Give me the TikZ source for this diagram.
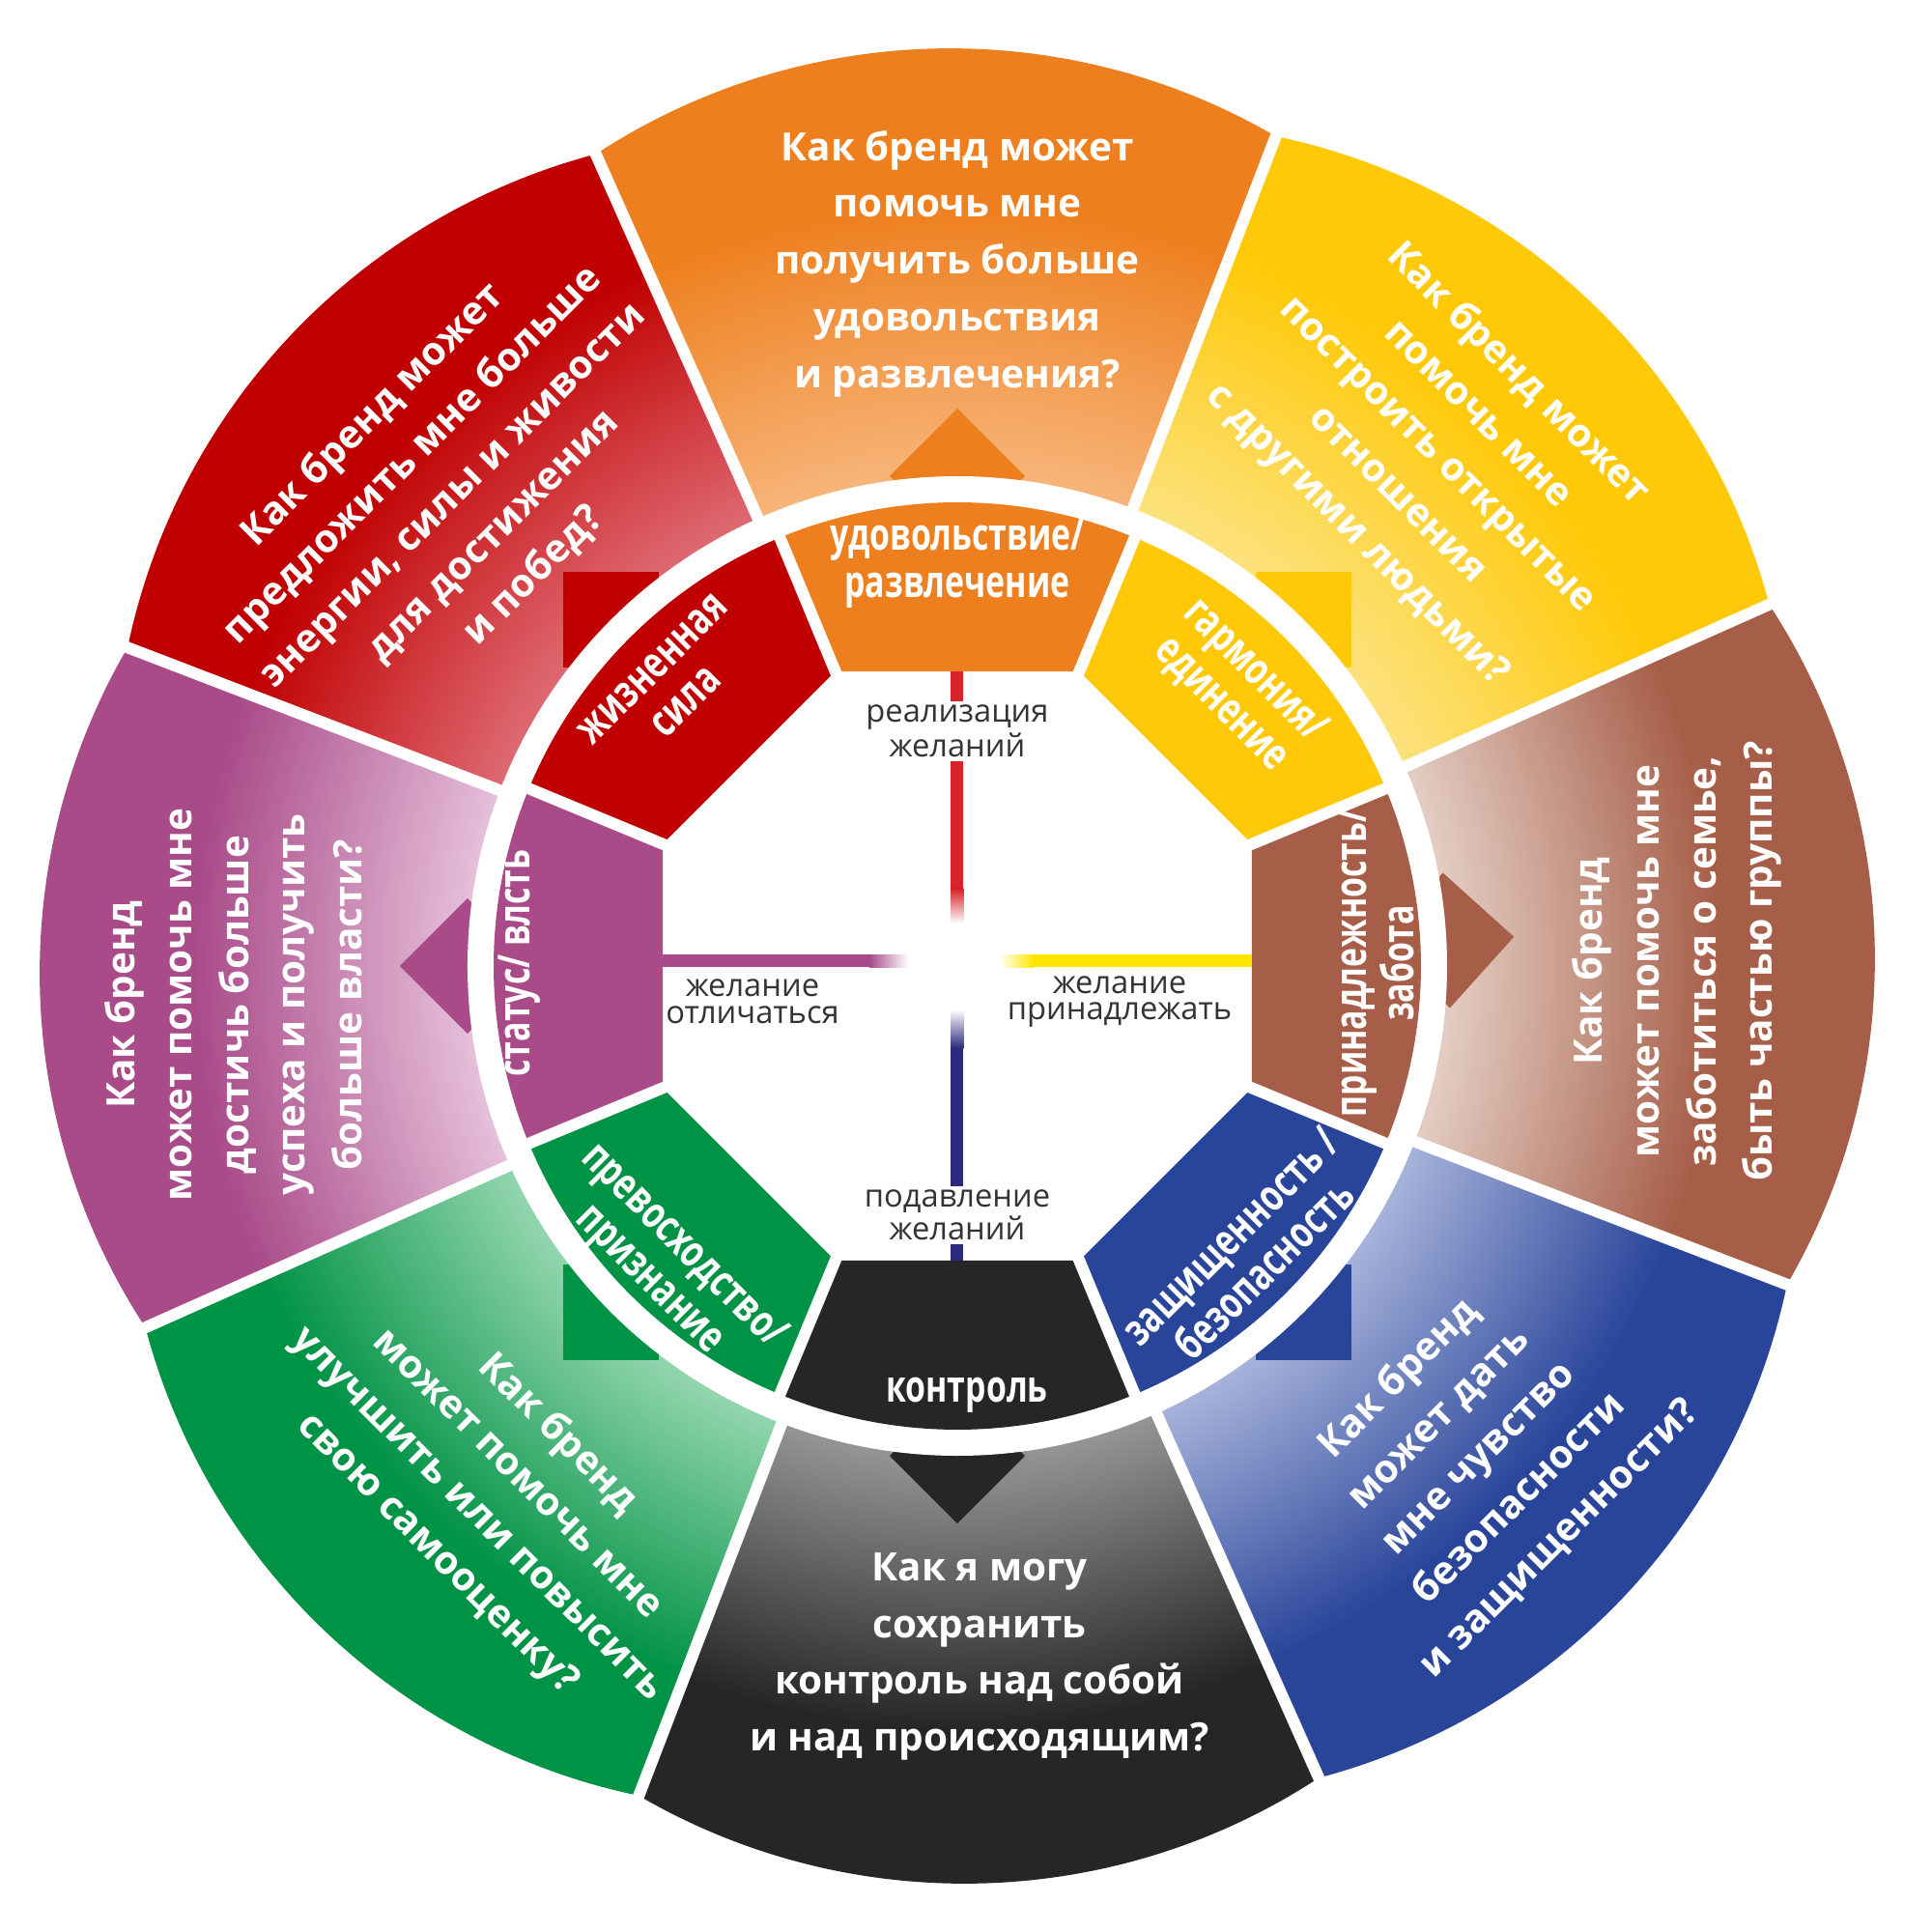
\documentclass[tikz,border=0pt]{standalone}
\usepackage{fontspec}
\setmainfont{Open Sans}
\newfontfamily\condfont[FakeStretch=0.74]{Open Sans}
\usepackage{tikz}

\definecolor{cRed}{HTML}{C00000}
\definecolor{cRedL}{HTML}{DE6A72}
\definecolor{cOrange}{HTML}{EE7F1E}
\definecolor{cOrangeL}{HTML}{F7B57A}
\definecolor{cYellow}{HTML}{FFC907}
\definecolor{cYellowL}{HTML}{FCE27E}
\definecolor{cBrown}{HTML}{A65E48}
\definecolor{cBrownL}{HTML}{E4CEC4}
\definecolor{cBlue}{HTML}{29459A}
\definecolor{cBlueL}{HTML}{A7B3DA}
\definecolor{cBlack}{HTML}{262626}
\definecolor{cBlackL}{HTML}{959595}
\definecolor{cGreen}{HTML}{009245}
\definecolor{cGreenL}{HTML}{94D6AE}
\definecolor{cPurple}{HTML}{A94B89}
\definecolor{cPurpleL}{HTML}{E6C0DA}
\definecolor{lRed}{HTML}{D8232A}
\definecolor{lPurple}{HTML}{A84B8A}
\definecolor{lYellow}{HTML}{FFE600}
\definecolor{lBlue}{HTML}{2D2A7C}
\definecolor{cText}{HTML}{333333}

% light near the ring, full colour towards the rim
\newcommand\wheelshade[3]{\pgfdeclareradialshading{#1}{\pgfpoint{0cm}{0cm}}%
  {color(0cm)=(#2);color(5.05cm)=(#2);color(7.9cm)=(#3);color(9.8cm)=(#3)}}
\wheelshade{shRed}{cRedL}{cRed}
\wheelshade{shOrange}{cOrangeL}{cOrange}
\wheelshade{shYellow}{cYellowL}{cYellow}
\wheelshade{shBrown}{cBrownL}{cBrown}
\wheelshade{shBlue}{cBlueL}{cBlue}
\wheelshade{shBlack}{cBlackL}{cBlack}
\wheelshade{shGreen}{cGreenL}{cGreen}
\wheelshade{shPurple}{cPurpleL}{cPurple}

% outer petal: #1 = middle angle, #2 = shading
\newcommand\petal[2]{%
  \begin{scope}
    \clip (0,0) -- (#1-22.5:9.2) arc[start angle=#1-31.72, end angle=#1+31.72, radius=6.696] -- cycle;
    \pgfuseshading{#2}
  \end{scope}}
% arrow square behind the ring
\newcommand\pointer[2]{%
  \fill[#2, shift={(#1:5.07)}] (#1:0.7) -- (#1+90:0.7) -- (#1+180:0.7) -- (#1+270:0.7) -- cycle;}
% inner ring segment
\newcommand\segment[2]{%
  \fill[#2] (#1-22.5:3.301) -- (#1+22.5:3.301) -- (#1+22.5:4.8)
    arc[start angle=#1+22.5, end angle=#1-22.5, radius=4.8] -- cycle;}

\begin{document}
\begin{tikzpicture}
  [outer/.style={text=white, align=center, font=\fontsize{11.5}{16.7}\selectfont\bfseries},
   inner/.style={text=white, align=center, font=\condfont\fontsize{13}{13.9}\selectfont\bfseries},
   mid/.style={text=cText, align=center, inner sep=1pt, font=\fontsize{9.3}{7.9}\selectfont},
   gap/.style={white, line width=1.2mm}]
  \fill[white] (-9.91,-10) rectangle (10.09,10);

  \petal{91.5}{shOrange}
  \petal{46.5}{shYellow}
  \petal{1.5}{shBrown}
  \petal{-43.5}{shBlue}
  \petal{-88.5}{shBlack}
  \petal{-133.5}{shGreen}
  \petal{181.5}{shPurple}
  \petal{136.5}{shRed}

  \pointer{90}{cOrange}
  \pointer{45}{cYellow}
  \pointer{3}{cBrown}
  \pointer{-45}{cBlue}
  \pointer{-90}{cBlack}
  \pointer{-135}{cGreen}
  \pointer{180}{cPurple}
  \pointer{135}{cRed}

  \fill[white] (0,0) circle (5.07);

  \segment{90}{cOrange}
  \segment{45}{cYellow}
  \segment{0}{cBrown}
  \segment{-45}{cBlue}
  \segment{-90}{cBlack}
  \segment{-135}{cGreen}
  \segment{180}{cPurple}
  \segment{135}{cRed}

  % gaps of the inner ring
  \draw[gap] (22.5:3) -- (22.5:4.95);
  \draw[gap] (67.5:3) -- (67.5:4.95);
  \draw[gap] (112.5:3) -- (112.5:4.95);
  \draw[gap] (157.5:3) -- (157.5:4.95);
  \draw[gap] (202.5:3) -- (202.5:4.95);
  \draw[gap] (247.5:3) -- (247.5:4.95);
  \draw[gap] (292.5:3) -- (292.5:4.95);
  \draw[gap] (337.5:3) -- (337.5:4.95);
  % gaps of the outer ring
  \draw[gap] (24:4.95) -- (24:9.9);
  \draw[gap] (69:4.95) -- (69:9.9);
  \draw[gap] (114:4.95) -- (114:9.9);
  \draw[gap] (159:4.95) -- (159:9.9);
  \draw[gap] (204:4.95) -- (204:9.9);
  \draw[gap] (249:4.95) -- (249:9.9);
  \draw[gap] (294:4.95) -- (294:9.9);
  \draw[gap] (339:4.95) -- (339:9.9);

  % cross in the middle
  \fill[lRed] (-0.065,3.05) rectangle (0.065,0.80);
  \shade[top color=lRed, bottom color=white] (-0.065,0.80) rectangle (0.065,0.44);
  \fill[lBlue] (-0.065,-3.05) rectangle (0.065,-0.85);
  \shade[top color=white, bottom color=lBlue] (-0.065,-0.45) rectangle (0.065,-0.85);
  \fill[lPurple] (-3.05,-0.015) rectangle (-0.91,0.115);
  \shade[left color=lPurple, right color=white] (-0.91,-0.015) rectangle (-0.51,0.115);
  \fill[lYellow] (3.05,-0.015) rectangle (0.79,0.115);
  \shade[left color=white, right color=lYellow] (0.43,-0.015) rectangle (0.79,0.115);

  \node[outer] (q-orange) at (0,7.27) {Как бренд может\\помочь мне\\получить больше\\удовольствия\\и развлечения?};
  \node[outer, rotate=-45] (q-yellow) at (4.97,5.29) {Как бренд может\\помочь мне\\построить открытые\\отношения\\с другими людьми?};
  \node[outer, rotate=90] (q-brown) at (7.45,0.05) {Как бренд\\может помочь мне\\заботиться о семье,\\быть частью группы?};
  \node[outer, rotate=45] (q-blue) at (5.40,-5.10) {Как бренд\\может дать\\мне чувство\\безопасности\\и защищенности?};
  \node[outer] (q-black) at (0.23,-7.15) {Как я могу\\сохранить\\контроль над собой\\и над происходящим?};
  \node[outer, rotate=-45] (q-green) at (-4.76,-5.47) {Как бренд\\может помочь мне\\улучшить или повысить\\свою самооценку?};
  \node[outer, rotate=90] (q-purple) at (-7.49,-0.40) {Как бренд\\может помочь мне\\достичь больше\\успеха и получить\\больше власти?};
  \node[outer, rotate=45] (q-red) at (-5.22,4.87) {Как бренд может\\предложить мне больше\\энергии, силы и живости\\для достижения\\и побед?};

  \node[inner] (n-orange) at (0,4.17) {удовольствие/\\развлечение};
  \node[inner, rotate=-45] (n-yellow) at (2.90,2.88) {гармония/\\единение};
  \node[inner, rotate=90] (n-brown) at (4.32,0.03) {принадлежность/\\забота};
  \node[inner, rotate=45] (n-blue) at (3.00,-2.97) {защищенность /\\безопасность};
  \node[inner] (n-black) at (0.10,-4.44) {контроль};
  \node[inner, rotate=-45] (n-green) at (-3.02,-3.08) {превосходство/\\признание};
  \node[inner, rotate=90] (n-purple) at (-4.53,0.03) {статус/ влсть};
  \node[inner, rotate=45] (n-red) at (-2.98,2.90) {жизненная\\сила};

  \node[mid, fill=white] (c-top) at (0,2.43) {реализация\\желаний};
  \node[mid] (c-left) at (-2.12,-0.37) {желание\\отличаться};
  \node[mid] (c-right) at (1.68,-0.37) {желание\\принадлежать};
  \node[mid, fill=white] (c-bottom) at (0,-2.58) {подавление\\желаний};
\end{tikzpicture}
\end{document}
